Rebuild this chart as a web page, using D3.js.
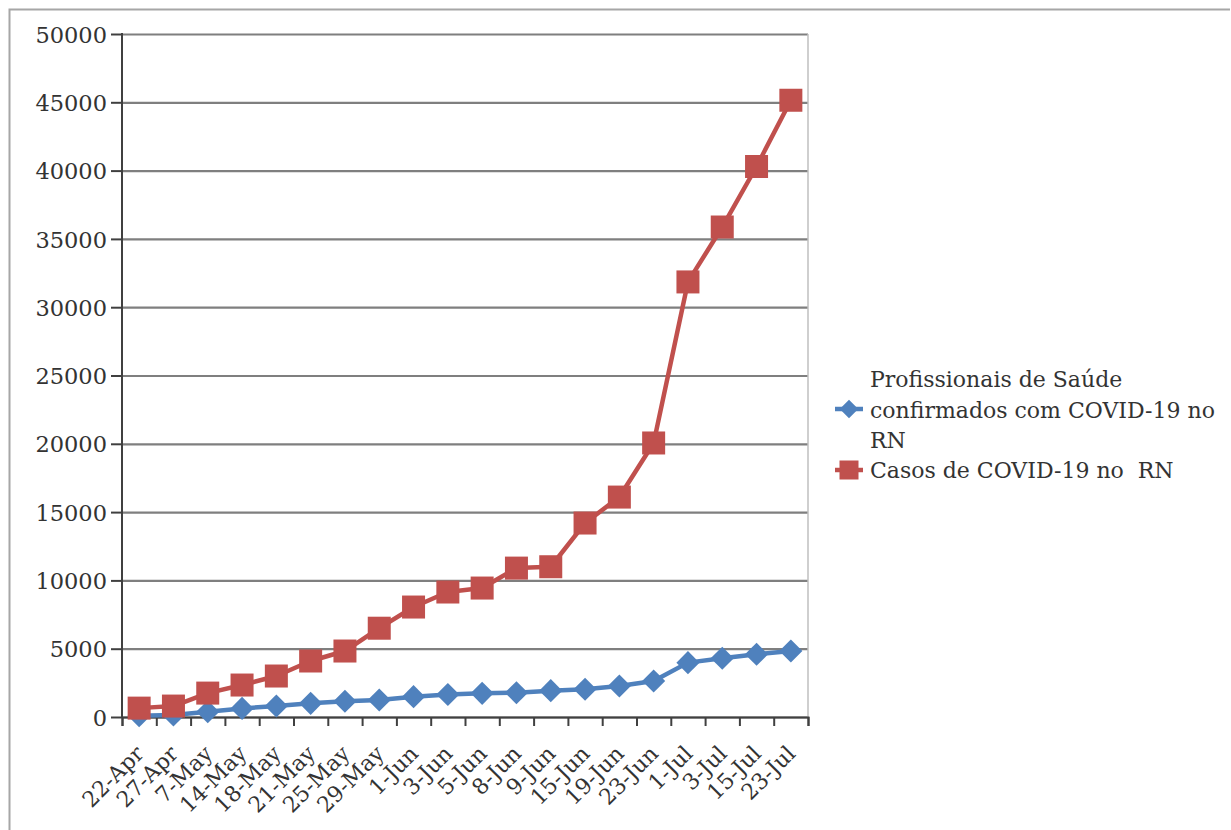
<!DOCTYPE html>
<html>
<head>
<meta charset="utf-8">
<script src="https://cdn.jsdelivr.net/npm/d3@7"></script>
<style>
  html, body { margin: 0; padding: 0; background: #fff; }
  svg text { font-family: "DejaVu Serif", serif; fill: #333; }
</style>
</head>
<body>
<svg id="chart" width="1231" height="830"></svg>
<script>
// Dates of each report
const categories = ["22-Apr","27-Apr","7-May","14-May","18-May","21-May","25-May","29-May",
  "1-Jun","3-Jun","5-Jun","8-Jun","9-Jun","15-Jun","19-Jun","23-Jun","1-Jul","3-Jul","15-Jul","23-Jul"];

// Health professionals confirmed with COVID-19 in RN
const profissionais = [100,150,390,630,800,1000,1150,1250,1490,1650,1730,1780,1930,2030,2270,2640,3980,4300,4590,4830];

// Total COVID-19 cases in RN
const casos = [650,800,1750,2340,3000,4100,4830,6500,8050,9150,9440,10900,11000,14200,16100,20060,31850,35870,40300,45150];

const yTicks = [0,5000,10000,15000,20000,25000,30000,35000,40000,45000,50000];

const seriesNames = ["Profissionais de Saúde confirmados com COVID-19 no RN", "Casos de COVID-19 no  RN"];
const colors = ["#4F81BD", "#C0504D"];

const svg = d3.select("#chart");
const plot = { left: 122, right: 808, top: 34, bottom: 717 };

// outer frame
svg.append("path")
  .attr("d", `M9.5,830 V9.5 H1230`)
  .attr("fill", "none").attr("stroke", "#a6a6a6").attr("stroke-width", 2);

const x = d3.scaleBand().domain(categories).range([plot.left, plot.right]);
const xEdge = d3.scaleLinear().domain([0, categories.length]).range([plot.left, plot.right]);
const y = d3.scaleLinear().domain([0, 50000]).range([plot.bottom, plot.top]);
const cx = d => x(d) + x.bandwidth() / 2;

// horizontal gridlines
svg.append("g")
  .attr("transform", `translate(${plot.left},0)`)
  .call(d3.axisLeft(y).tickValues(yTicks).tickSize(-(plot.right - plot.left)).tickFormat(""))
  .call(g => g.select(".domain").remove())
  .call(g => g.selectAll("line").attr("stroke", "#7f7f7f").attr("stroke-width", 2.2));

// right edge of plot
svg.append("line")
  .attr("x1", plot.right).attr("x2", plot.right)
  .attr("y1", plot.top).attr("y2", plot.bottom)
  .attr("stroke", "#bfbfbf").attr("stroke-width", 1.5);

// y axis
svg.append("g")
  .attr("transform", `translate(${plot.left},0)`)
  .call(d3.axisLeft(y).tickValues(yTicks).tickSize(11).tickPadding(4).tickFormat(d3.format("d")))
  .call(g => g.select(".domain").attr("d", `M0,${plot.top - 1}V${plot.bottom + 1}`)
      .attr("stroke", "#404040").attr("stroke-width", 2))
  .call(g => g.selectAll("line").attr("stroke", "#404040").attr("stroke-width", 2))
  .call(g => g.selectAll("text").style("font-size", "22.5px").attr("dy", "0.36em"));

// x axis with ticks on category boundaries
svg.append("g")
  .attr("transform", `translate(0,${plot.bottom})`)
  .call(d3.axisBottom(xEdge).tickValues(d3.range(categories.length + 1)).tickSize(9).tickFormat(""))
  .call(g => g.select(".domain").attr("stroke", "#404040").attr("stroke-width", 2))
  .call(g => g.selectAll("line").attr("stroke", "#404040").attr("stroke-width", 2));

// rotated category labels
svg.append("g")
  .attr("transform", `translate(0,${plot.bottom})`)
  .call(d3.axisBottom(x).tickSize(0).tickPadding(0))
  .call(g => g.select(".domain").remove())
  .call(g => g.selectAll(".tick text")
      .style("font-size", "22px")
      .attr("text-anchor", "end")
      .attr("dy", "0")
      .attr("transform", "translate(6,38) rotate(-45)"));

const line = d3.line().x((d, i) => cx(categories[i])).y(d => y(d));

// health professionals series: blue with diamond markers
svg.append("path").datum(profissionais)
  .attr("d", line).attr("fill", "none")
  .attr("stroke", colors[0]).attr("stroke-width", 4.5).attr("stroke-linejoin", "round");
const diamond = d3.symbol().type(d3.symbolDiamond2).size(340);
svg.append("g").selectAll("path").data(profissionais).join("path")
  .attr("d", diamond)
  .attr("transform", (d, i) => `translate(${cx(categories[i])},${y(d)})`)
  .attr("fill", colors[0]);

// cases series: red with square markers
svg.append("path").datum(casos)
  .attr("d", line).attr("fill", "none")
  .attr("stroke", colors[1]).attr("stroke-width", 4.5).attr("stroke-linejoin", "round");
svg.append("g").selectAll("rect").data(casos).join("rect")
  .attr("x", (d, i) => cx(categories[i]) - 11.5)
  .attr("y", d => y(d) - 11.5)
  .attr("width", 23).attr("height", 23)
  .attr("fill", colors[1]);

// legend
const legend = svg.append("g");
const legX = 835, legW = 28, textX = 870;
// entry 1
legend.append("line").attr("x1", legX).attr("x2", legX + legW).attr("y1", 409).attr("y2", 409)
  .attr("stroke", colors[0]).attr("stroke-width", 4.5);
legend.append("path").attr("d", d3.symbol().type(d3.symbolDiamond2).size(220))
  .attr("transform", `translate(${legX + legW / 2},409)`).attr("fill", colors[0]);
const t1 = legend.append("text").attr("x", textX).attr("y", 387).style("font-size", "22px");
["Profissionais de Saúde", "confirmados com COVID-19 no", "RN"].forEach((s, i) =>
  t1.append("tspan").attr("x", textX).attr("dy", i === 0 ? "0" : "30.5").text(s));
// entry 2
legend.append("line").attr("x1", legX).attr("x2", legX + legW).attr("y1", 470).attr("y2", 470)
  .attr("stroke", colors[1]).attr("stroke-width", 4.5);
legend.append("rect").attr("x", legX + legW / 2 - 9.5).attr("y", 460.5).attr("width", 19).attr("height", 19)
  .attr("fill", colors[1]);
legend.append("text").attr("x", textX).attr("y", 478).style("font-size", "22px")
  .style("white-space", "pre").text(seriesNames[1]);
</script>
</body>
</html>
